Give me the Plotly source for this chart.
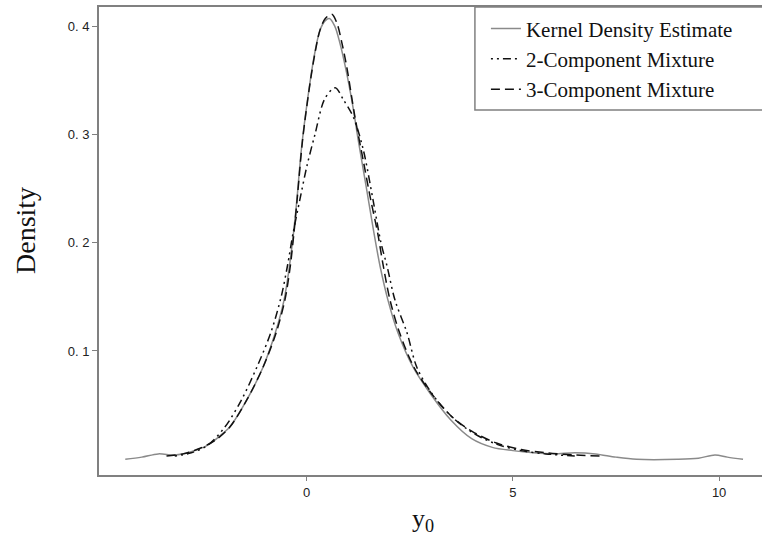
import plotly.graph_objects as go

# Kernel density estimate
kde_x = [-4.4, -4.0, -3.6, -3.2, -2.8, -2.4, -2.0, -1.86, -1.45, -1.06, -0.76, -0.55, -0.42, -0.32, -0.24,
         -0.13, 0.02, 0.18, 0.32, 0.45, 0.55, 0.68, 0.8, 0.95, 1.1, 1.27, 1.45, 1.63, 1.78, 1.97, 2.21,
         2.58, 2.99, 3.5, 4.0, 4.5, 5.0, 5.5, 6.0, 6.5, 7.0, 7.5, 8.0, 9.0, 9.5, 9.9, 10.2, 10.58]
kde_y = [0.000, 0.002, 0.005, 0.004, 0.007, 0.013, 0.025, 0.030, 0.055, 0.085, 0.117, 0.147, 0.178, 0.209, 0.239,
         0.286, 0.332, 0.372, 0.396, 0.405, 0.407, 0.400, 0.385, 0.360, 0.330, 0.290, 0.250, 0.209, 0.178, 0.147, 0.117,
         0.085, 0.061, 0.036, 0.019, 0.011, 0.008, 0.006, 0.005, 0.006, 0.005, 0.002, 0.000, 0.000, 0.001, 0.004, 0.002, 0.000]

# 2-component mixture
mix2_x = [-3.2, -2.8, -2.4, -1.98, -1.58, -1.21, -0.87, -0.62, -0.47, -0.33, -0.17, 0.0, 0.2, 0.44, 0.69, 0.89,
          1.13, 1.37, 1.61, 1.8, 1.95, 2.14, 2.43, 2.67, 3.03, 3.5, 4.0, 4.6, 5.2, 5.8, 6.5]
mix2_y = [0.003, 0.006, 0.013, 0.030, 0.055, 0.085, 0.117, 0.150, 0.178, 0.209, 0.239, 0.270, 0.300, 0.333, 0.343, 0.332,
          0.316, 0.286, 0.239, 0.200, 0.178, 0.147, 0.117, 0.085, 0.061, 0.040, 0.025, 0.014, 0.008, 0.005, 0.003]

# 3-component mixture
mix3_x = [-3.4, -3.0, -2.6, -2.2, -1.86, -1.45, -1.06, -0.74, -0.53, -0.40, -0.31, -0.22, -0.10, 0.08, 0.2, 0.32,
          0.45, 0.61, 0.73, 0.85, 0.97, 1.17, 1.37, 1.55, 1.72, 1.85, 2.02, 2.25, 2.6, 3.02, 3.5, 4.0,
          4.6, 5.2, 5.8, 6.5, 7.1]
mix3_y = [0.003, 0.005, 0.010, 0.018, 0.030, 0.055, 0.085, 0.117, 0.147, 0.178, 0.209, 0.245, 0.295, 0.347, 0.375, 0.396,
          0.407, 0.411, 0.403, 0.385, 0.3625, 0.316, 0.276, 0.240, 0.209, 0.180, 0.147, 0.117, 0.085, 0.061, 0.040, 0.026,
          0.015, 0.009, 0.006, 0.004, 0.003]

x_ticks = [0, 5, 10]
y_ticks = [0.1, 0.2, 0.3, 0.4]
y_ticktext = ["0. 1", "0. 2", "0. 3", "0. 4"]

fig = go.Figure()
fig.add_trace(go.Scatter(x=kde_x, y=kde_y, mode="lines", name="Kernel Density Estimate",
                         line=dict(color="#8a8a8a", width=1.5, shape="spline", smoothing=0.9),
                         legendgroup="a"))
fig.add_trace(go.Scatter(x=mix2_x, y=mix2_y, mode="lines", name="2-Component Mixture",
                         line=dict(color="#111111", width=1.5, shape="spline", smoothing=0.9,
                                   dash="2px,4px,2px,4px,8px,4px"),
                         legendgroup="b"))
fig.add_trace(go.Scatter(x=mix3_x, y=mix3_y, mode="lines", name="3-Component Mixture",
                         line=dict(color="#111111", width=1.5, shape="spline", smoothing=0.9,
                                   dash="9px,5px"),
                         legendgroup="c"))

# legend frame (open to the right, as in the reference)
fig.add_shape(type="rect", xref="paper", yref="paper", x0=0.567, x1=1.05, y0=0.78, y1=1.0,
              line=dict(color="#808080", width=1.5), fillcolor="white", layer="below")

fig.add_annotation(text="Density", xref="paper", yref="paper", x=-0.112, y=0.523,
                   xanchor="center", yanchor="middle", textangle=-90, showarrow=False,
                   font=dict(family="Liberation Serif", size=28, color="#111111"))
fig.add_annotation(text="y<sub>0</sub>", xref="paper", yref="paper", x=0.489, y=-0.096,
                   xanchor="center", yanchor="middle", showarrow=False,
                   font=dict(family="Liberation Serif", size=26, color="#111111"))

fig.update_layout(
    width=762, height=540,
    margin=dict(l=99, r=0, t=7, b=65, autoexpand=False),
    paper_bgcolor="white", plot_bgcolor="white",
    showlegend=True,
    legend=dict(x=0.5836, y=0.997, xanchor="left", yanchor="top",
                bgcolor="rgba(0,0,0,0)", borderwidth=0,
                font=dict(family="Liberation Serif", size=21, color="#111111"),
                itemwidth=30, tracegroupgap=0),
    xaxis=dict(range=[-5.037, 11.04], tickvals=x_ticks, ticktext=[str(v) for v in x_ticks],
               showgrid=False, zeroline=False, showline=True, mirror=True, automargin=False,
               linecolor="#808080", linewidth=2, ticks="outside", ticklen=4, tickcolor="#808080",
               tickfont=dict(family="Liberation Sans", size=13, color="#222222")),
    yaxis=dict(range=[-0.0145, 0.4176], tickvals=y_ticks, ticktext=y_ticktext,
               showgrid=False, zeroline=False, showline=True, mirror=False, automargin=False,
               linecolor="#808080", linewidth=2, ticks="outside", ticklen=5, tickcolor="#808080",
               tickfont=dict(family="Liberation Sans", size=13, color="#222222")),
)

fig.write_html("out.html", config={"displayModeBar": False},
               post_script="document.body.style.margin='0';document.body.style.overflow='hidden';")
